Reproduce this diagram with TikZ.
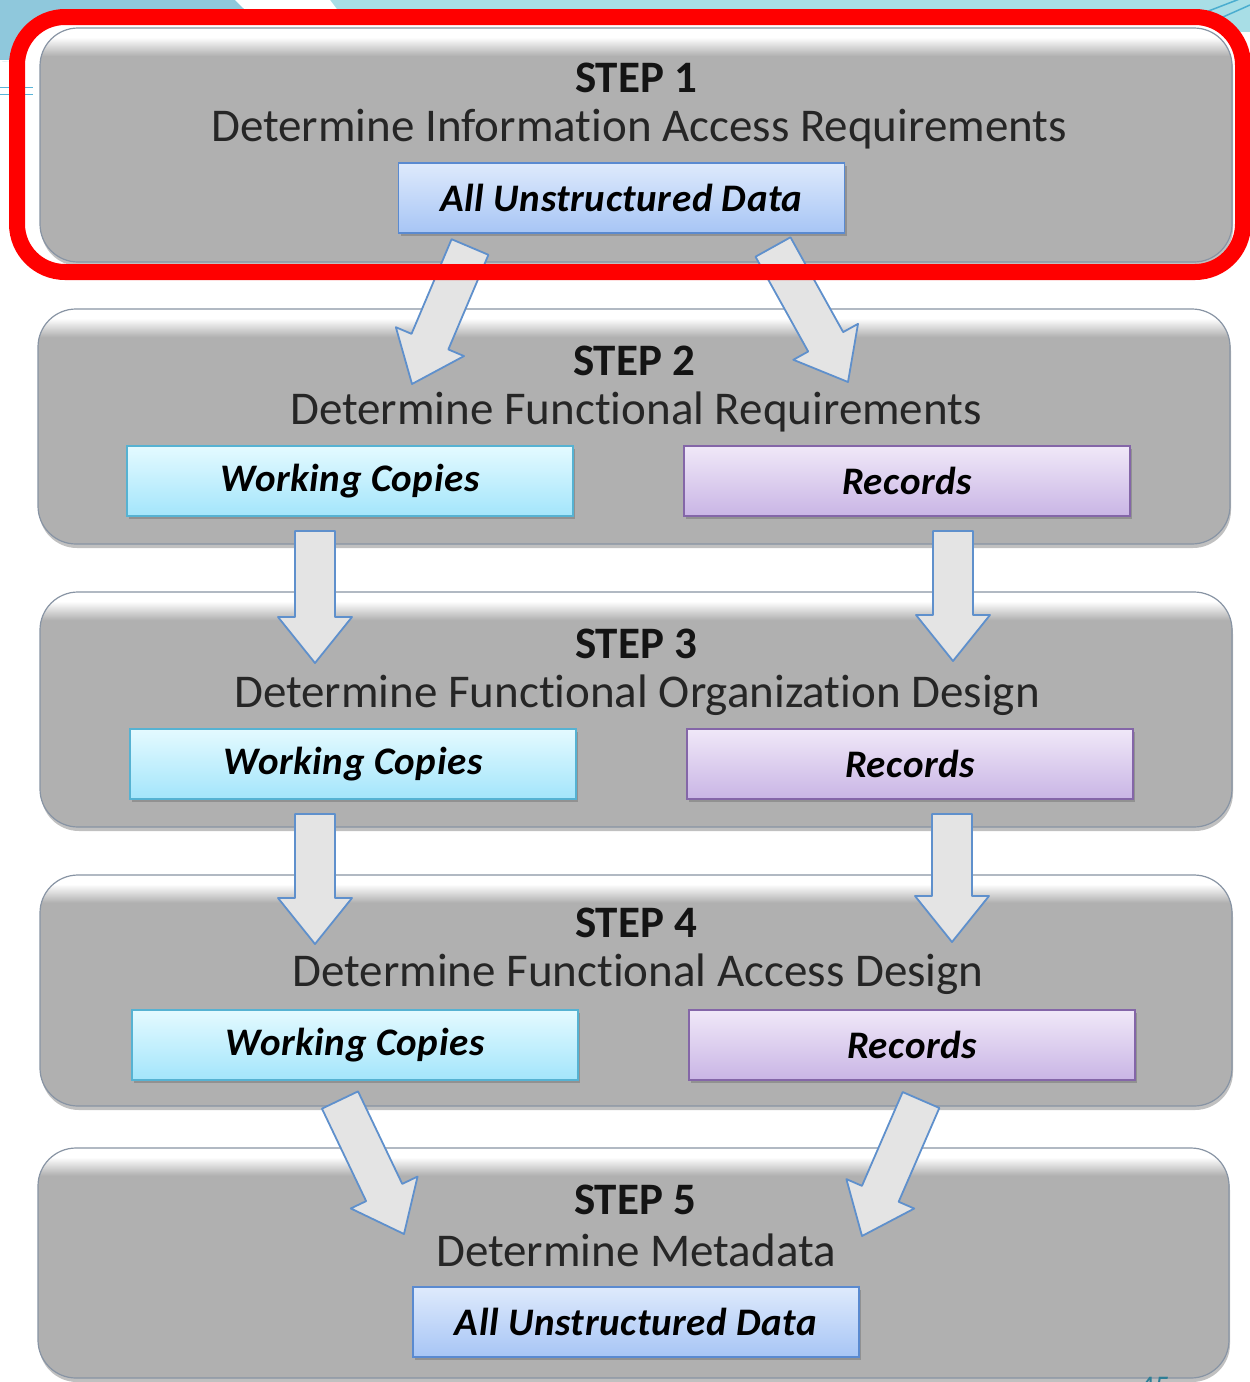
\documentclass[tikz,border=0pt]{standalone}
\usepackage{fontspec}
\setmainfont{Carlito}[RawFeature={-liga,-dlig,-clig}]
\usetikzlibrary{calc,shadows}
\definecolor{pgray}{HTML}{B0B0B0}
\definecolor{pedge}{HTML}{8894A4}
\definecolor{tealA}{HTML}{8FC8DC}
\definecolor{tealB}{HTML}{A8DEE6}
\definecolor{tealC}{HTML}{4AADCF}
\definecolor{lineblue}{HTML}{5AB4D8}
\definecolor{bluetop}{HTML}{DEEAFC}
\definecolor{bluebot}{HTML}{A7C5F5}
\definecolor{blueedge}{HTML}{5A8AD0}
\definecolor{cyantop}{HTML}{E4FAFF}
\definecolor{cyanbot}{HTML}{A3E5FB}
\definecolor{cyanedge}{HTML}{56B2D2}
\definecolor{purtop}{HTML}{F0E8F8}
\definecolor{purbot}{HTML}{C9B5E5}
\definecolor{puredge}{HTML}{8466A8}
\definecolor{arrfill}{HTML}{E4E4E4}
\definecolor{arredge}{HTML}{5F90CC}
\definecolor{numteal}{HTML}{2E7E96}
\pgfdeclareverticalshading{panelsh}{100bp}{color(0bp)=(pgray); color(25bp)=(pgray); color(69bp)=(pgray); color(73bp)=(white); color(100bp)=(white)}
\newcommand{\blockarr}[2]{%
  \coordinate (bb) at ($(#2)!46pt!(#1)$);
  \filldraw[arrowsty] ($(#1)!20pt!90:(#2)$) -- ($(bb)!20pt!90:(#2)$) -- ($(bb)!37pt!90:(#2)$) -- (#2)
    -- ($(bb)!37pt!-90:(#2)$) -- ($(bb)!20pt!-90:(#2)$) -- ($(#1)!20pt!-90:(#2)$) -- cycle;}
\begin{document}
\begin{tikzpicture}[x=1pt,y=-1pt,
  panel/.style={shade, shading=panelsh, draw=pedge, line width=1.2pt, rounded corners=38pt,
    minimum width=1192pt, inner sep=0pt,
    drop shadow={shadow xshift=1pt, shadow yshift=-4pt, opacity=0.35, fill=black!70}},
  boxsty/.style={minimum width=446pt, minimum height=70pt, inner sep=0pt, line width=1.6pt,
    font=\fontsize{39}{42}\selectfont\bfseries\itshape\addfontfeature{LetterSpace=1.5}, text=black,
    drop shadow={shadow xshift=2pt, shadow yshift=-3pt, opacity=0.3, fill=black!70}},
  bluebox/.style={boxsty, draw=blueedge, top color=bluetop, bottom color=bluebot},
  cyanbox/.style={boxsty, draw=cyanedge, top color=cyantop, bottom color=cyanbot},
  purbox/.style={boxsty, draw=puredge, top color=purtop, bottom color=purbot},
  steptitle/.style={font=\fontsize{45}{50}\selectfont\bfseries, text=black!92, inner sep=0pt},
  stepsub/.style={font=\fontsize{47}{50}\selectfont, text=black!85, inner sep=0pt},
  arrowsty/.style={fill=arrfill, draw=arredge, line width=1.8pt, line join=round}]
\useasboundingbox (0,0) rectangle (1250,1382);
\clip (0,0) rectangle (1250,1382);
% background
\fill[white] (0,0) rectangle (1250,1382);
\fill[tealB] (0,0) rectangle (1250,60);
\fill[tealA] (0,0) -- (235,0) -- (268,32) -- (0,62) -- cycle;
\fill[white] (235,0) -- (330,0) -- (345,20) -- (268,32) -- cycle;
\fill[white] (0,62) -- (268,32) -- (1250,32) -- (1250,60) -- (0,60) -- cycle;
\draw[tealC, line width=1.5pt] (1180,22) -- (1250,-5);
\draw[tealC, line width=1.5pt] (1205,25) -- (1250,5);
\fill[white, rounded corners=48pt] (17,17) rectangle (1243,272);
\draw[lineblue, line width=1pt] (0,87) -- (33,87);
\draw[lineblue, line width=1pt] (0,94) -- (33,94);
% panels
\node[panel, minimum height=234pt] (p1) at (636,145) {};
\node[panel, minimum height=235pt] (p2) at (634,426.5) {};
\node[panel, minimum height=235pt] (p3) at (636,709.5) {};
\node[panel, minimum height=231pt] (p4) at (636,990.5) {};
\node[panel, minimum height=230pt, minimum width=1191pt] (p5) at (633.5,1263) {};
% titles
\node[steptitle] (s1) at (636,78) {STEP 1};
\node[stepsub] (t1) at (639,129) {Determine Information Access Requirements};
\node[steptitle] (s2) at (634,361) {STEP 2};
\node[stepsub] (t2) at (636,412) {Determine Functional Requirements};
\node[steptitle] (s3) at (636,644) {STEP 3};
\node[stepsub] (t3) at (637,695) {Determine Functional Organization Design};
\node[steptitle] (s4) at (636,923) {STEP 4};
\node[stepsub] (t4) at (638,974) {Determine Functional Access Design};
\node[steptitle] (s5) at (635,1200) {STEP 5};
\node[stepsub] (t5) at (636,1250) {Determine Metadata};
% boxes
\node[bluebox] (b1) at (621.5,198) {All Unstructured Data};
\node[cyanbox] (w2) at (350,481) {Working Copies};
\node[purbox] (r2) at (907,481) {Records};
\node[cyanbox] (w3) at (353,764) {Working Copies};
\node[purbox] (r3) at (910,764) {Records};
\node[cyanbox] (w4) at (355,1045) {Working Copies};
\node[purbox] (r4) at (912,1045) {Records};
\node[bluebox] (b5) at (636,1322) {All Unstructured Data};
% arrows
\coordinate (a1s) at (470,247); \coordinate (a1t) at (412,384);
\coordinate (a2s) at (773,247); \coordinate (a2t) at (848,382);
\coordinate (a3s) at (315,531); \coordinate (a3t) at (315,663);
\coordinate (a4s) at (953,531); \coordinate (a4t) at (953,661);
\coordinate (a5s) at (315,814); \coordinate (a5t) at (315,944);
\coordinate (a6s) at (952,814); \coordinate (a6t) at (952,942);
\coordinate (a7s) at (340,1100); \coordinate (a7t) at (404,1234);
\coordinate (a8s) at (921,1100); \coordinate (a8t) at (862,1236);
\blockarr{a1s}{a1t}
\blockarr{a2s}{a2t}
\blockarr{a3s}{a3t}
\blockarr{a4s}{a4t}
\blockarr{a5s}{a5t}
\blockarr{a6s}{a6t}
\blockarr{a7s}{a7t}
\blockarr{a8s}{a8t}
% highlight
\draw[red, line width=16pt, rounded corners=48pt] (17,17) rectangle (1243,272);
% page number
\node[anchor=base, text=numteal, font=\fontsize{30}{32}\selectfont, inner sep=0pt] (pg) at (1155,1396) {45};
\end{tikzpicture}
\end{document}
